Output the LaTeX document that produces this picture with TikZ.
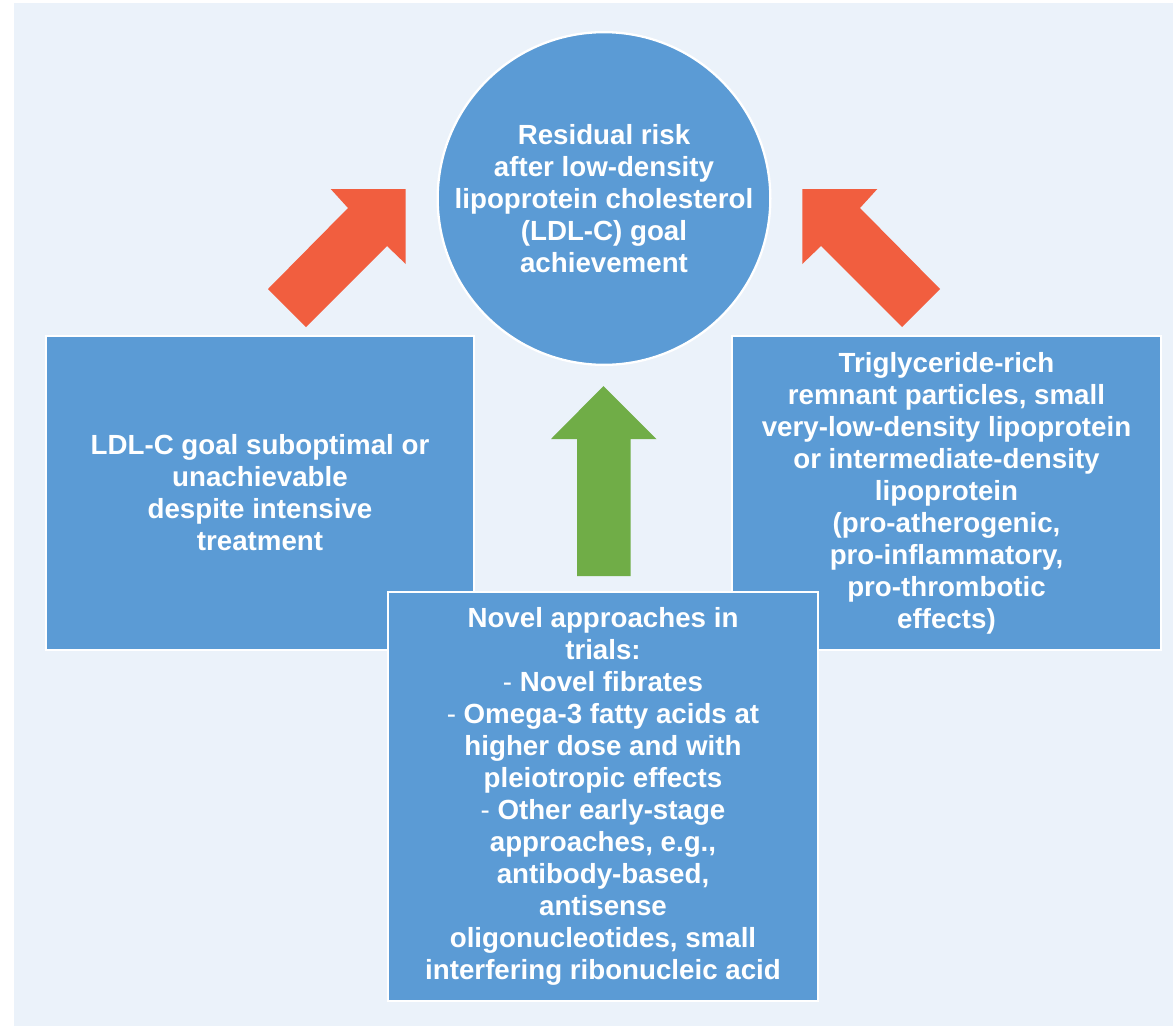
\documentclass[tikz,border=0pt]{standalone}
\usepackage{fontspec}
\setmainfont{Liberation Sans}
\definecolor{pagebg}{HTML}{EBF2FA}
\definecolor{boxblue}{HTML}{5B9BD5}
\definecolor{riskred}{HTML}{F15E3F}
\definecolor{trialgreen}{HTML}{70AD47}

\begin{document}
\begin{tikzpicture}[
  x=1pt, y=-1pt,
  txt/.style={text=white, font=\fontsize{27.7}{32}\selectfont\bfseries, align=center},
  box/.style={txt, rectangle, fill=boxblue, draw=white, line width=2.3pt, inner sep=0pt},
  hub/.style={txt, circle, fill=boxblue, draw=white, line width=2.3pt, inner sep=0pt, minimum size=332.7pt},
  riskarrow/.style={fill=riskred},
  trialarrow/.style={fill=trialgreen},
]
\useasboundingbox (0,0) rectangle (1173,1026);
\fill[pagebg] (14,3) rectangle (1173,1026);

% side boxes first, the trials box overlaps both
\node[box, minimum width=428pt, minimum height=314pt] (subopt) at (260,493)
  {LDL-C goal suboptimal or\\unachievable\\despite intensive\\treatment};
\node[box, minimum width=429pt, minimum height=314pt] (remnant) at (946.5,493)
  {Triglyceride-rich\\remnant particles, small\\very-low-density lipoprotein\\or intermediate-density\\lipoprotein\\(pro-atherogenic,\\pro-inflammatory,\\pro-thrombotic\\effects)};
\node[box, minimum width=430pt, minimum height=409pt] (trials) at (603,796.5)
  {Novel approaches in\\trials:\\\textmd{-} Novel fibrates\\\textmd{-} Omega-3 fatty acids at\\higher dose and with\\pleiotropic effects\\\textmd{-} Other early-stage\\approaches, e.g.,\\antibody-based,\\antisense\\oligonucleotides, small\\interfering ribonucleic acid};

\node[hub] (risk) at (604,198.5)
  {Residual risk\\after low-density\\lipoprotein cholesterol\\(LDL-C) goal\\achievement};

% block arrows into the residual-risk circle
\fill[riskarrow] (268,289) -- (348,208) -- (330.7,189) -- (405.7,189) -- (405.7,264) -- (387,246) -- (306,327) -- cycle;
\fill[riskarrow] (940,289) -- (860,208) -- (877.3,189) -- (802.3,189) -- (802.3,264) -- (821,246) -- (902,327) -- cycle;
\fill[trialarrow] (577,576) -- (577,439) -- (551,439) -- (603.5,386) -- (656.5,439) -- (630.5,439) -- (630.5,576) -- cycle;
\end{tikzpicture}
\end{document}
